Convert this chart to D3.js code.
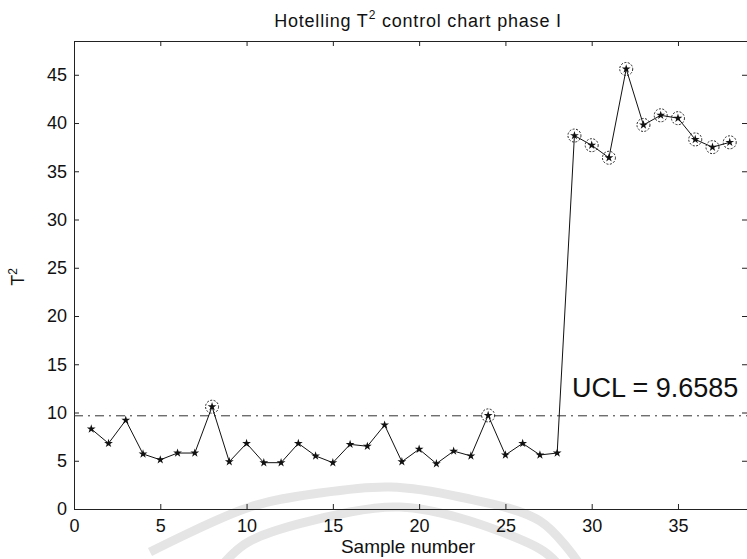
<!DOCTYPE html>
<html>
<head>
<meta charset="utf-8">
<script src="https://cdn.jsdelivr.net/npm/d3@7"></script>
<style>
  body { margin: 0; background: #fff; }
  svg { display: block; }
  text { font-family: "Liberation Sans", Arial, sans-serif; fill: #111; }
</style>
</head>
<body>
<div id="chart"></div>
<script>
// sample numbers 1..38 and the T2 statistic
var samples = d3.range(1, 39)
var t2 = [8.3, 6.8, 9.2, 5.7, 5.1, 5.8, 5.8, 10.6, 4.9, 6.8,
  4.8, 4.8, 6.8, 5.5, 4.8, 6.7, 6.5, 8.7, 4.9, 6.2,
  4.7, 6.0, 5.5, 9.7, 5.6, 6.8, 5.6, 5.8, 38.7, 37.7,
  36.4, 45.6, 39.8, 40.8, 40.5, 38.3, 37.5, 38.0]
var ucl = 9.6585
var xTicks = [0, 5, 10, 15, 20, 25, 30, 35]
var yTicks = [0, 5, 10, 15, 20, 25, 30, 35, 40, 45]

var width = 747, height = 559
var plotLeft = 74, plotRight = 747, plotTop = 41, plotBottom = 509

var svg = d3.select("#chart").append("svg")
  .attr("width", width)
  .attr("height", height)

// faint watermark arcs from the scanned page
var wm = d3.line().curve(d3.curveCatmullRom)
svg.append("path")
  .attr("d", wm([[150, 552], [250, 507], [320, 493], [390, 487], [460, 497], [540, 521], [578, 562]]))
  .attr("fill", "none").attr("stroke", "#e5e5e5").attr("stroke-width", 9)
svg.append("path")
  .attr("d", wm([[225, 562], [250, 541], [350, 512], [400, 507], [460, 518], [540, 549], [556, 562]]))
  .attr("fill", "none").attr("stroke", "#e5e5e5").attr("stroke-width", 9)

var x = d3.scaleLinear().domain([0, 39]).range([plotLeft, plotRight])
var y = d3.scaleLinear().domain([0, 48.5]).range([plotBottom, plotTop])

// axes, ticks point inward like MATLAB
var xAxis = svg.append("g")
  .attr("transform", "translate(0," + plotBottom + ")")
  .call(d3.axisBottom(x).tickValues(xTicks).tickSize(-5).tickPadding(10))
var yAxis = svg.append("g")
  .attr("transform", "translate(" + plotLeft + ",0)")
  .call(d3.axisLeft(y).tickValues(yTicks).tickSize(-5).tickPadding(7))
svg.append("g")
  .attr("transform", "translate(0," + plotTop + ")")
  .call(d3.axisTop(x).tickValues(xTicks).tickSize(-5).tickFormat(""))
svg.append("g")
  .attr("transform", "translate(" + plotRight + ",0)")
  .call(d3.axisRight(y).tickValues(yTicks).tickSize(-5).tickFormat(""))

svg.selectAll(".domain").attr("stroke", "#222")
svg.selectAll(".tick line").attr("stroke", "#222")
xAxis.selectAll("text").style("font-size", "18px").attr("font-family", null)
yAxis.selectAll("text").style("font-size", "18px").attr("font-family", null)

// UCL line
svg.append("line")
  .attr("x1", plotLeft).attr("x2", plotRight)
  .attr("y1", y(ucl)).attr("y2", y(ucl))
  .attr("stroke", "#333")
  .attr("stroke-width", 1)
  .attr("stroke-dasharray", "9,5,2,5")

svg.append("text")
  .attr("x", 572)
  .attr("y", 397)
  .style("font-size", "27px")
  .text("UCL = " + ucl)

// T2 series
var line = d3.line()
  .x(function (d, i) { return x(samples[i]) })
  .y(function (d) { return y(d) })

svg.append("path")
  .attr("d", line(t2))
  .attr("fill", "none")
  .attr("stroke", "#111")
  .attr("stroke-width", 1)

svg.selectAll(".pt")
  .data(t2)
  .enter().append("path")
  .attr("class", "pt")
  .attr("transform", function (d, i) { return "translate(" + x(samples[i]) + "," + y(d) + ")" })
  .attr("d", d3.symbol().type(d3.symbolStar).size(24))
  .attr("fill", "#111")

// out of control points get a dotted circle
svg.selectAll(".ooc")
  .data(t2.map(function (d, i) { return { s: samples[i], v: d } }).filter(function (d) { return d.v > ucl }))
  .enter().append("circle")
  .attr("class", "ooc")
  .attr("cx", function (d) { return x(d.s) })
  .attr("cy", function (d) { return y(d.v) })
  .attr("r", 6.5)
  .attr("fill", "none")
  .attr("stroke", "#222")
  .attr("stroke-width", 1)
  .attr("stroke-dasharray", "2,1.5")

// titles
var title = svg.append("text")
  .attr("x", 418)
  .attr("y", 27)
  .attr("text-anchor", "middle")
  .style("font-size", "18px")
  .style("letter-spacing", "0.8px")
title.append("tspan").text("Hotelling T")
title.append("tspan").attr("dy", -8).style("font-size", "12px").text("2")
title.append("tspan").attr("dy", 8).text(" control chart phase I")

svg.append("text")
  .attr("x", 408)
  .attr("y", 553)
  .attr("text-anchor", "middle")
  .style("font-size", "19px")
  .text("Sample number")

var ylab = svg.append("text")
  .attr("transform", "translate(24,277) rotate(-90)")
  .attr("text-anchor", "middle")
  .style("font-size", "18px")
ylab.append("tspan").text("T")
ylab.append("tspan").attr("dy", -7).style("font-size", "12px").text("2")
</script>
</body>
</html>
